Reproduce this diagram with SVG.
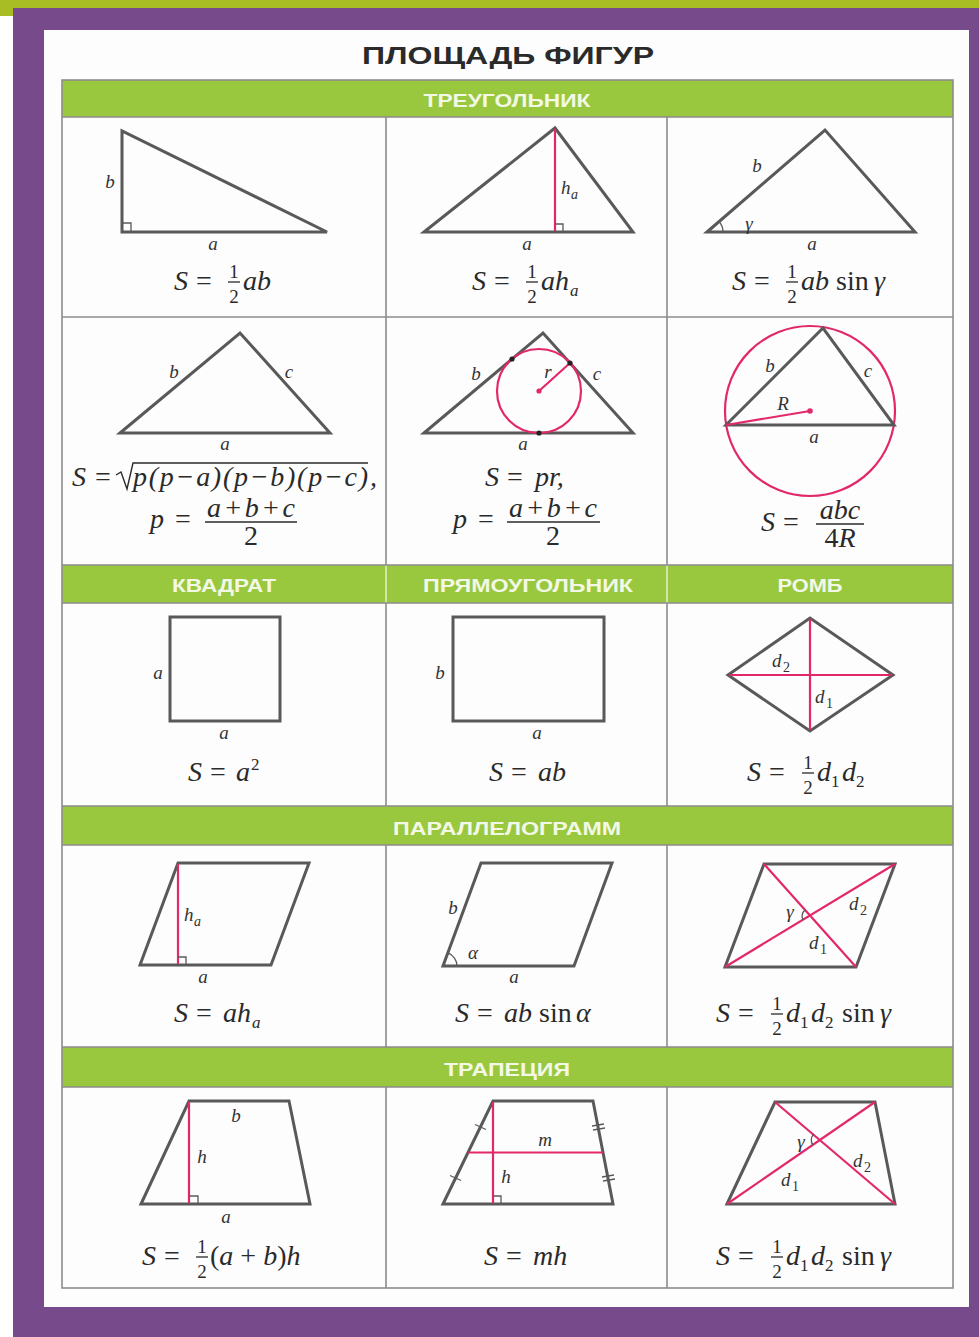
<svg xmlns="http://www.w3.org/2000/svg" width="979" height="1337" viewBox="0 0 979 1337">
<style>
.fig{fill:none;stroke:#595959;stroke-width:3;stroke-linejoin:miter}
.pk{fill:none;stroke:#e2286b;stroke-width:2.2}
.thin{fill:none;stroke:#595959;stroke-width:1.3}
.grid{fill:none;stroke:#8c8c8c;stroke-width:1.6}
.hbar{fill:#99c83f}
.hd{font-family:"Liberation Sans Narrow","Liberation Sans",Arial,sans-serif;font-weight:bold;font-size:19px;fill:#f3f8e6;text-anchor:middle}
.lbl{font-family:"Liberation Serif","Times New Roman",serif;font-style:italic;font-size:19px;fill:#333;text-anchor:middle}
.st{text-anchor:start}
.f{font-family:"Liberation Serif","Times New Roman",serif;font-style:italic;font-size:28px;fill:#2a2a2a}
.u{font-style:normal}
.fr{font-family:"Liberation Serif","Times New Roman",serif;font-size:19px;fill:#2a2a2a;text-anchor:middle}
.bar{stroke:#2a2a2a;stroke-width:1.3}
.sub{font-size:17px;font-style:normal}
.subi{font-size:17px;font-style:italic}
.ls{font-size:14px;font-style:normal}
.lsi{font-size:14px;font-style:italic}
.dot{fill:#222}
.pdot{fill:#e2286b}
</style>
<rect x="0" y="0" width="979" height="1337" fill="#ffffff"/>
<rect x="0" y="0" width="979" height="8" fill="#a8bd24"/>
<rect x="0" y="0" width="13" height="16" fill="#a8bd24"/>
<rect x="13" y="8" width="966" height="1329" fill="#774a8b"/>
<rect x="44" y="30" width="925" height="1277" fill="#fdfdfd"/>
<text x="508" y="64" font-family="Liberation Sans,Arial,sans-serif" font-weight="bold" font-size="24" fill="#2a2a2a" text-anchor="middle" textLength="292" lengthAdjust="spacingAndGlyphs">ПЛОЩАДЬ ФИГУР</text>

<g id="table">
<rect class="hbar" x="62" y="80" width="891" height="37"/>
<rect class="hbar" x="62" y="565" width="891" height="38"/>
<rect class="hbar" x="62" y="806" width="891" height="39"/>
<rect class="hbar" x="62" y="1047" width="891" height="40"/>
<line x1="386" y1="565" x2="386" y2="603" stroke="#e4f0c8" stroke-width="1.5"/>
<line x1="667" y1="565" x2="667" y2="603" stroke="#e4f0c8" stroke-width="1.5"/>
<rect class="grid" x="62" y="80" width="891" height="1208"/>
<path class="grid" d="M62,117 H953 M62,317 H953 M62,565 H953 M62,603 H953 M62,806 H953 M62,845 H953 M62,1047 H953 M62,1087 H953"/>
<path class="grid" d="M386,117 V565 M667,117 V565 M386,603 V806 M667,603 V806 M386,845 V1047 M667,845 V1047 M386,1087 V1288 M667,1087 V1288"/>
<text class="hd" x="507" y="107" textLength="167" lengthAdjust="spacingAndGlyphs">ТРЕУГОЛЬНИК</text>
<text class="hd" x="224" y="592" textLength="104" lengthAdjust="spacingAndGlyphs">КВАДРАТ</text>
<text class="hd" x="528" y="592" textLength="210" lengthAdjust="spacingAndGlyphs">ПРЯМОУГОЛЬНИК</text>
<text class="hd" x="810" y="592" textLength="65" lengthAdjust="spacingAndGlyphs">РОМБ</text>
<text class="hd" x="507" y="835" textLength="228" lengthAdjust="spacingAndGlyphs">ПАРАЛЛЕЛОГРАММ</text>
<text class="hd" x="507" y="1076" textLength="126" lengthAdjust="spacingAndGlyphs">ТРАПЕЦИЯ</text>
</g>

<g id="connectors"></g>

<g id="tri-right">
<polygon class="fig" points="122,131 122,232 327,232"/>
<path class="thin" d="M122,223 H131 V232"/>
<text class="lbl" x="110" y="188">b</text>
<text class="lbl" x="213" y="250">a</text>
<text class="f" x="174" y="290">S</text>
<text class="f u" x="196" y="290">=</text>
<text class="fr" x="234" y="278">1</text><line class="bar" x1="228" y1="282" x2="240" y2="282"/><text class="fr" x="234" y="303">2</text>
<text class="f" x="243" y="290">ab</text>
</g>

<g id="tri-height">
<polygon class="fig" points="424,232 555,128 633,232"/>
<line class="pk" x1="555" y1="129" x2="555" y2="231"/>
<path class="thin" d="M555,224 H563 V232"/>
<text class="lbl st" x="561" y="194">h<tspan class="lsi" x="571" y="199">a</tspan></text>
<text class="lbl" x="527" y="250">a</text>
<text class="f" x="472" y="290">S</text>
<text class="f u" x="494" y="290">=</text>
<text class="fr" x="532" y="278">1</text><line class="bar" x1="526" y1="282" x2="538" y2="282"/><text class="fr" x="532" y="303">2</text>
<text class="f" x="541" y="290">ah<tspan class="subi" x="570" y="296">a</tspan></text>
</g>

<g id="tri-sine">
<polygon class="fig" points="707,232 825,130 915,232"/>
<path class="thin" d="M723,232 A16,16 0 0 0 719.1,221.5"/>
<text class="lbl" x="757" y="172">b</text>
<text class="lbl" x="749" y="230">γ</text>
<text class="lbl" x="812" y="250">a</text>
<text class="f" x="732" y="290">S</text>
<text class="f u" x="754" y="290">=</text>
<text class="fr" x="792" y="278">1</text><line class="bar" x1="786" y1="282" x2="798" y2="282"/><text class="fr" x="792" y="303">2</text>
<text class="f" x="801" y="290">ab</text>
<text class="f u" x="836" y="290">sin</text>
<text class="f" x="874" y="290">γ</text>
</g>

<g id="tri-heron">
<polygon class="fig" points="120,433 240,333 330,433"/>
<text class="lbl" x="174" y="378">b</text>
<text class="lbl" x="289" y="378">c</text>
<text class="lbl" x="225" y="450">a</text>
<text class="f" x="72" y="486">S</text>
<text class="f u" x="95" y="486">=</text>
<path d="M116,475 L121,472 L127,489 L133,463 L368,463" fill="none" stroke="#2a2a2a" stroke-width="1.4"/>
<text class="f" x="133" y="486" textLength="235">p(p−a)(p−b)(p−c)</text>
<text class="f" x="370" y="486">,</text>
<text class="f" x="150" y="528">p</text>
<text class="f u" x="175" y="528">=</text>
<text class="f" x="251" y="517" font-size="23" text-anchor="middle" textLength="88">a+b+c</text>
<line class="bar" x1="205" y1="522" x2="297" y2="522"/>
<text class="f u" x="251" y="545" font-size="24" text-anchor="middle">2</text>
</g>

<g id="tri-incircle">
<polygon class="fig" points="424,433 543,333 633,433"/>
<circle class="pk" cx="539" cy="391" r="42"/>
<line class="pk" x1="539" y1="391" x2="570" y2="363"/>
<circle class="dot" cx="512" cy="359" r="2.6"/>
<circle class="dot" cx="570" cy="363" r="2.6"/>
<circle class="dot" cx="539" cy="433" r="2.6"/>
<circle class="pdot" cx="539" cy="391" r="2.6"/>
<text class="lbl" x="476" y="380">b</text>
<text class="lbl" x="548" y="378">r</text>
<text class="lbl" x="597" y="380">c</text>
<text class="lbl" x="523" y="450">a</text>
<text class="f" x="485" y="486">S</text>
<text class="f u" x="507" y="486">=</text>
<text class="f" x="535" y="486">pr,</text>
<text class="f" x="453" y="528">p</text>
<text class="f u" x="478" y="528">=</text>
<text class="f" x="553" y="517" font-size="23" text-anchor="middle" textLength="88">a+b+c</text>
<line class="bar" x1="507" y1="522" x2="600" y2="522"/>
<text class="f u" x="553" y="545" font-size="24" text-anchor="middle">2</text>
</g>

<g id="tri-circum">
<circle class="pk" cx="810" cy="411" r="85"/>
<polygon class="fig" points="726,425 823,328 894,425"/>
<line class="pk" x1="726" y1="425" x2="810" y2="411"/>
<circle class="pdot" cx="810" cy="411" r="2.8"/>
<text class="lbl" x="770" y="372">b</text>
<text class="lbl" x="868" y="377">c</text>
<text class="lbl" x="783" y="410">R</text>
<text class="lbl" x="814" y="443">a</text>
<text class="f" x="761" y="531">S</text>
<text class="f u" x="783" y="531">=</text>
<text class="f" x="840" y="519" font-size="25" text-anchor="middle">abc</text>
<line class="bar" x1="816" y1="524" x2="864" y2="524"/>
<text class="f" x="840" y="547" font-size="25" text-anchor="middle"><tspan class="u">4</tspan>R</text>
</g>

<g id="square">
<rect class="fig" x="170" y="617" width="110" height="104"/>
<text class="lbl" x="158" y="679">a</text>
<text class="lbl" x="224" y="739">a</text>
<text class="f" x="188" y="781">S</text>
<text class="f u" x="210" y="781">=</text>
<text class="f" x="236" y="781">a<tspan class="sub" x="251" y="770">2</tspan></text>
</g>

<g id="rectangle">
<rect class="fig" x="453" y="617" width="151" height="104"/>
<text class="lbl" x="440" y="679">b</text>
<text class="lbl" x="537" y="739">a</text>
<text class="f" x="489" y="781">S</text>
<text class="f u" x="511" y="781">=</text>
<text class="f" x="538" y="781">ab</text>
</g>

<g id="rhombus">
<polygon class="fig" points="728,675 810,618 893,675 810,731"/>
<line class="pk" x1="729" y1="675" x2="892" y2="675"/>
<line class="pk" x1="810" y1="619" x2="810" y2="730"/>
<text class="lbl st" x="772" y="667">d<tspan class="ls" x="783" y="672">2</tspan></text>
<text class="lbl st" x="815" y="703">d<tspan class="ls" x="826" y="708">1</tspan></text>
<text class="f" x="747" y="781">S</text>
<text class="f u" x="769" y="781">=</text>
<text class="fr" x="808" y="769">1</text><line class="bar" x1="802" y1="773" x2="814" y2="773"/><text class="fr" x="808" y="794">2</text>
<text class="f" x="817" y="781">d<tspan class="sub" x="831" y="787">1</tspan><tspan x="842" y="781">d</tspan><tspan class="sub" x="856" y="787">2</tspan></text>
</g>

<g id="parallelogram-height">
<polygon class="fig" points="140,965 178,863 309,863 271,965"/>
<line class="pk" x1="178" y1="864" x2="178" y2="964"/>
<path class="thin" d="M178,957 H186 V965"/>
<text class="lbl st" x="184" y="921">h<tspan class="lsi" x="194" y="926">a</tspan></text>
<text class="lbl" x="203" y="983">a</text>
<text class="f" x="174" y="1022">S</text>
<text class="f u" x="196" y="1022">=</text>
<text class="f" x="223" y="1022">ah<tspan class="subi" x="252" y="1028">a</tspan></text>
</g>

<g id="parallelogram-sine">
<polygon class="fig" points="443,966 481,863 612,863 574,966"/>
<path class="thin" d="M457,966 A14,14 0 0 0 447.9,952.9"/>
<text class="lbl" x="453" y="914">b</text>
<text class="lbl" x="473" y="959">α</text>
<text class="lbl" x="514" y="983">a</text>
<text class="f" x="455" y="1022">S</text>
<text class="f u" x="477" y="1022">=</text>
<text class="f" x="504" y="1022">ab</text>
<text class="f u" x="539" y="1022">sin</text>
<text class="f" x="576" y="1022">α</text>
</g>

<g id="parallelogram-diagonals">
<polygon class="fig" points="725,967 764,864 895,864 856,967"/>
<line class="pk" x1="764" y1="864" x2="856" y2="967"/>
<line class="pk" x1="725" y1="967" x2="895" y2="864"/>
<path class="thin" d="M803,920 A8,8 0 0 1 805,910"/>
<text class="lbl" x="790" y="918">γ</text>
<text class="lbl st" x="849" y="910">d<tspan class="ls" x="860" y="915">2</tspan></text>
<text class="lbl st" x="809" y="949">d<tspan class="ls" x="820" y="954">1</tspan></text>
<text class="f" x="716" y="1022">S</text>
<text class="f u" x="738" y="1022">=</text>
<text class="fr" x="777" y="1010">1</text><line class="bar" x1="771" y1="1014" x2="783" y2="1014"/><text class="fr" x="777" y="1035">2</text>
<text class="f" x="786" y="1022">d<tspan class="sub" x="800" y="1028">1</tspan><tspan x="811" y="1022">d</tspan><tspan class="sub" x="825" y="1028">2</tspan></text>
<text class="f u" x="842" y="1022">sin</text>
<text class="f" x="880" y="1022">γ</text>
</g>

<g id="trapezoid-bases">
<polygon class="fig" points="141,1204 189,1101 289,1101 310,1204"/>
<line class="pk" x1="189" y1="1102" x2="189" y2="1203"/>
<path class="thin" d="M189,1196 H198 V1204"/>
<text class="lbl" x="236" y="1122">b</text>
<text class="lbl" x="202" y="1163">h</text>
<text class="lbl" x="226" y="1223">a</text>
<text class="f" x="142" y="1265">S</text>
<text class="f u" x="164" y="1265">=</text>
<text class="fr" x="202" y="1253">1</text><line class="bar" x1="196" y1="1257" x2="208" y2="1257"/><text class="fr" x="202" y="1278">2</text>
<text class="f" x="210" y="1265"><tspan class="u">(</tspan>a<tspan class="u"> + </tspan>b<tspan class="u">)</tspan>h</text>
</g>

<g id="trapezoid-midline">
<polygon class="fig" points="443,1204 493,1101 593,1101 613,1204"/>
<line class="pk" x1="493" y1="1102" x2="493" y2="1203"/>
<line class="pk" x1="468" y1="1152.5" x2="603" y2="1152.5"/>
<path class="thin" d="M493,1196 H501 V1204"/>
<path class="thin" d="M475,1124.5 L486,1129.5 M450,1175.5 L461,1180.5"/>
<path class="thin" d="M592,1126 L604,1124 M593,1130 L605,1128 M602,1177 L614,1175 M603,1181 L615,1179"/>
<text class="lbl" x="545" y="1146">m</text>
<text class="lbl" x="506" y="1183">h</text>
<text class="f" x="484" y="1265">S</text>
<text class="f u" x="506" y="1265">=</text>
<text class="f" x="533" y="1265">mh</text>
</g>

<g id="trapezoid-diagonals">
<polygon class="fig" points="727,1204 775,1102 875,1102 895,1204"/>
<line class="pk" x1="775" y1="1102" x2="895" y2="1204"/>
<line class="pk" x1="727" y1="1204" x2="875" y2="1102"/>
<path class="thin" d="M813,1145 A8,8 0 0 1 814,1134"/>
<text class="lbl" x="801" y="1148">γ</text>
<text class="lbl st" x="853" y="1167">d<tspan class="ls" x="864" y="1172">2</tspan></text>
<text class="lbl st" x="781" y="1186">d<tspan class="ls" x="792" y="1191">1</tspan></text>
<text class="f" x="716" y="1265">S</text>
<text class="f u" x="738" y="1265">=</text>
<text class="fr" x="777" y="1253">1</text><line class="bar" x1="771" y1="1257" x2="783" y2="1257"/><text class="fr" x="777" y="1278">2</text>
<text class="f" x="786" y="1265">d<tspan class="sub" x="800" y="1271">1</tspan><tspan x="811" y="1265">d</tspan><tspan class="sub" x="825" y="1271">2</tspan></text>
<text class="f u" x="842" y="1265">sin</text>
<text class="f" x="880" y="1265">γ</text>
</g>
</svg>
